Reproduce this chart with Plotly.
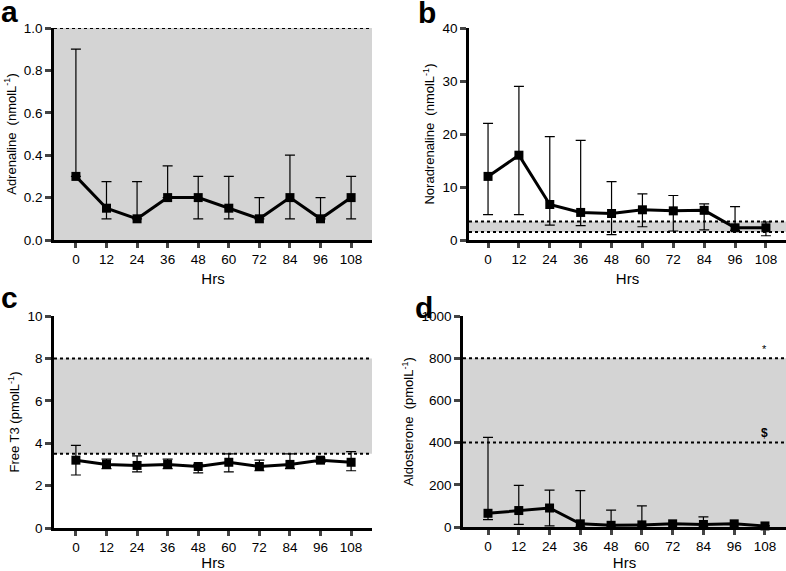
import plotly.graph_objects as go

# time points (hours)
hrs = [0, 12, 24, 36, 48, 60, 72, 84, 96, 108]

# a: adrenaline (nmol/L) - median with error range
adr_mid = [0.30, 0.15, 0.10, 0.20, 0.20, 0.15, 0.10, 0.20, 0.10, 0.20]
adr_hi = [0.90, 0.275, 0.275, 0.35, 0.30, 0.30, 0.20, 0.40, 0.20, 0.30]
adr_lo = [0.30, 0.10, 0.10, 0.20, 0.10, 0.10, 0.10, 0.10, 0.10, 0.10]

# b: noradrenaline (nmol/L)
nor_mid = [12.0, 16.0, 6.7, 5.2, 5.0, 5.7, 5.5, 5.6, 2.3, 2.3]
nor_hi = [22.0, 29.0, 19.5, 18.8, 11.0, 8.7, 8.4, 6.8, 6.3, 3.4]
nor_lo = [4.8, 4.8, 2.8, 2.7, 1.0, 2.5, 1.7, 1.9, 1.8, 0.8]

# c: free T3 (pmol/L)
t3_mid = [3.2, 3.0, 2.95, 3.0, 2.9, 3.1, 2.9, 3.0, 3.2, 3.1]
t3_hi = [3.9, 3.25, 3.4, 3.25, 3.0, 3.5, 3.2, 3.5, 3.3, 3.6]
t3_lo = [2.5, 2.8, 2.65, 2.8, 2.6, 2.65, 2.7, 2.8, 3.1, 2.7]

# d: aldosterone (pmol/L)
ald_mid = [65, 78, 90, 15, 8, 10, 15, 12, 15, 5]
ald_hi = [425, 197, 175, 172, 80, 100, 15, 48, 15, 5]
ald_lo = [35, 12, 5, 0, 0, 0, 15, 0, 15, 5]

# reference ranges (shaded band, dotted lines)
ranges = {
    "a": (0.0, 1.0, [1.0]),
    "b": (1.5, 3.5, [1.5, 3.5]),
    "c": (3.5, 8.0, [3.5, 8.0]),
    "d": (0.0, 800.0, [400.0, 800.0]),
}

W, H = 786, 571
FONT = "Liberation Sans, Arial, sans-serif"

panels = [
    # letter, mid, hi, lo, x px span, y px span, x range, y range, dtick, title, fmt, letter pos
    ("a", adr_mid, adr_hi, adr_lo, (54, 372), (28, 240), [-8.6, 116.2], [0, 1.0], 0.2,
     "Adrenaline  (nmolL<sup>-1</sup>)", ".1f", (-1, -7)),
    ("b", nor_mid, nor_hi, nor_lo, (469, 786), (28, 240), [-7.4, 115.8], [0, 40], 10,
     "Noradrenaline  (nmolL<sup>-1</sup>)", "d", (416, -6)),
    ("c", t3_mid, t3_hi, t3_lo, (54, 372), (316, 528), [-8.6, 116.2], [0, 10], 2,
     "Free T3 (pmolL<sup>-1</sup>)", "d", (-1, 279)),
    ("d", ald_mid, ald_hi, ald_lo, (463, 786), (316, 527), [-9.75, 116.2], [0, 1000], 200,
     "Aldosterone  (pmolL<sup>-1</sup>)", "d", (413, 289)),
]

fig = go.Figure()
shapes = []
annotations = []

for i, (letter, mid, hi, lo, xs, ys, xr, yr, dt, title, fmt, lp) in enumerate(panels):
    n = "" if i == 0 else str(i + 1)
    xa, ya = "x" + n, "y" + n
    plus = [h - m for h, m in zip(hi, mid)]
    minus = [m - l for m, l in zip(mid, lo)]
    fig.add_trace(go.Scatter(
        x=hrs, y=mid, mode="lines+markers", xaxis=xa, yaxis=ya,
        line=dict(color="black", width=3),
        marker=dict(symbol="square", size=9, color="black"),
        error_y=dict(type="data", symmetric=False, array=plus, arrayminus=minus,
                     color="black", thickness=1.2, width=5),
        cliponaxis=False, showlegend=False,
    ))
    fig.layout["xaxis" + n] = dict(
        domain=[xs[0] / W, xs[1] / W], anchor=ya, range=xr, automargin=False,
        tickvals=hrs, ticks="outside", ticklen=5, tickwidth=2.5,
        showline=True, linecolor="black", linewidth=2.5, showgrid=False,
        zeroline=False, title=dict(text="Hrs", standoff=8, font=dict(size=15)),
        tickfont=dict(size=13.5),
    )
    fig.layout["yaxis" + n] = dict(
        domain=[1 - ys[1] / H, 1 - ys[0] / H], anchor=xa, range=yr, dtick=dt,
        automargin=False, tickformat=fmt, ticks="outside", ticklen=6, tickwidth=2.5,
        showline=True, linecolor="black", linewidth=2.5, showgrid=False,
        zeroline=False, title=dict(text=title, standoff=5, font=dict(size=13)),
        tickfont=dict(size=13.5),
    )
    lo_r, hi_r, lines = ranges[letter]
    shapes.append(dict(type="rect", xref=xa + " domain", yref=ya, x0=0, x1=1,
                       y0=lo_r, y1=hi_r, fillcolor="#d4d4d4", line_width=0,
                       layer="below"))
    for v in lines:
        shapes.append(dict(type="line", xref=xa + " domain", yref=ya, x0=0, x1=1,
                           y0=v, y1=v, line=dict(color="black", width=2, dash="dot"),
                           layer="below"))
    # panel letter
    annotations.append(dict(text="<b>%s</b>" % letter, xref="paper", yref="paper",
                            x=lp[0] / W, y=1 - lp[1] / H, xanchor="left", yanchor="top",
                            showarrow=False, font=dict(size=30, color="black")))

# markers of reference range in panel d
annotations.append(dict(text="*", xref="x4", yref="y4", x=108, y=800, yanchor="bottom",
                        yshift=1, showarrow=False, font=dict(size=11)))
annotations.append(dict(text="<b>$</b>", xref="x4", yref="y4", x=108, y=400,
                        yanchor="bottom", yshift=1, showarrow=False, font=dict(size=12)))

fig.update_layout(
    width=W, height=H, margin=dict(l=0, r=0, t=0, b=0),
    plot_bgcolor="white", paper_bgcolor="white",
    font=dict(family=FONT, color="black"),
    shapes=shapes, annotations=annotations,
)

# drop the browser's default page margin so the figure sits at the window corner
fig.write_html("out.html", config={"displayModeBar": False},
               post_script="document.body.style.margin='0';")
